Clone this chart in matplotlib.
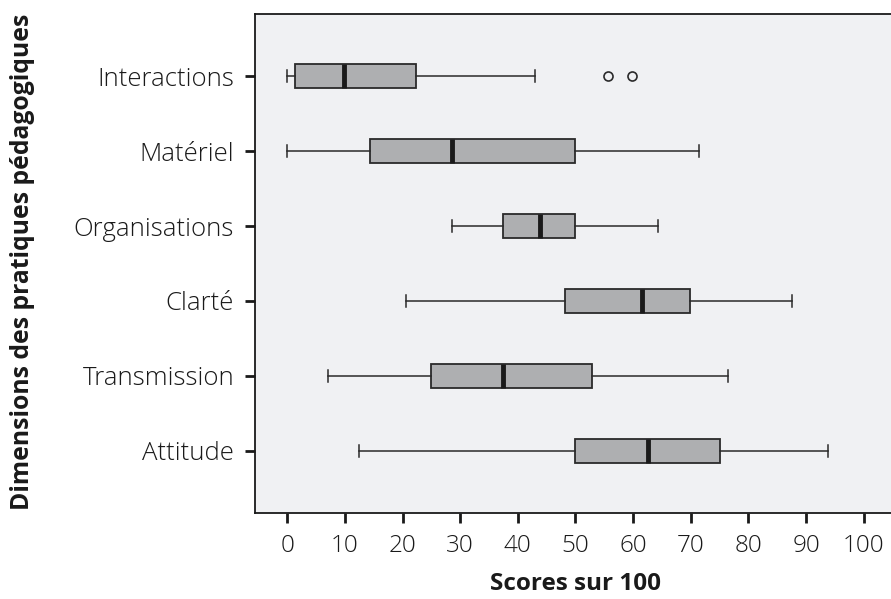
import matplotlib
matplotlib.use('Agg')
import matplotlib.pyplot as plt

# données (scores sur 100)
categories = ['Attitude', 'Transmission', 'Clarté', 'Organisations', 'Matériel', 'Interactions']
whislo = [12.5, 7.0, 20.6, 28.6, 0.0, 0.0]
q1 = [50.0, 25.0, 48.1, 37.5, 14.3, 1.4]
med = [62.5, 37.5, 61.6, 43.8, 28.6, 9.8]
q3 = [75.0, 52.8, 69.9, 50.0, 50.0, 22.3]
whishi = [93.8, 76.4, 87.6, 64.3, 71.4, 42.9]
outliers = [[], [], [], [], [], [55.6, 59.8]]

plt.rcParams['font.family'] = ['Open Sans', 'DejaVu Sans']

stats = []
for i, c in enumerate(categories):
    stats.append({'label': c, 'whislo': whislo[i], 'q1': q1[i], 'med': med[i],
                  'q3': q3[i], 'whishi': whishi[i], 'fliers': outliers[i]})

fig = plt.figure(figsize=(8.91, 5.99), dpi=100)
ax = fig.add_axes([0.2862, 0.1436, 0.7194, 0.8331])
ax.set_facecolor('#f0f1f3')

ax.bxp(stats, positions=range(1, 7), orientation='horizontal', widths=0.32,
       capwidths=0.16, patch_artist=True,
       boxprops=dict(facecolor='#aeafb1', edgecolor='#2a2a2a', linewidth=1.3),
       medianprops=dict(color='#1a1a1a', linewidth=3.5, solid_capstyle='butt'),
       whiskerprops=dict(color='#2a2a2a', linewidth=1.1),
       capprops=dict(color='#2a2a2a', linewidth=1.1),
       flierprops=dict(marker='o', markerfacecolor='none', markeredgecolor='#2a2a2a',
                       markersize=6.5, markeredgewidth=1.2))

ax.set_xlim(-5.6, 105.6)
ax.set_ylim(0.17, 6.83)
ax.set_xticks(range(0, 101, 10))
ax.set_yticks(range(1, 7))
ax.set_yticklabels(categories)
ax.tick_params(axis='both', length=7, width=2, color='#1a1a1a')
ax.tick_params(axis='x', labelsize=17.5, pad=8)
ax.tick_params(axis='y', labelsize=18.5, pad=8)
ax.spines['right'].set_visible(False)
for s in ['left', 'bottom', 'top']:
    ax.spines[s].set_linewidth(1.3)
    ax.spines[s].set_color('#1a1a1a')
for lab in ax.get_xticklabels() + ax.get_yticklabels():
    lab.set_fontweight('light')
    lab.set_color('#1a1a1a')

ax.set_xlabel('Scores sur 100', fontsize=17.5, fontweight='bold', labelpad=10,
              color='#1a1a1a')
fig.text(0.025, 0.5626, 'Dimensions des pratiques pédagogiques', rotation=90,
         fontsize=17.8, fontweight='bold', ha='center', va='center', color='#1a1a1a')

fig.savefig('out.png', dpi=100)
